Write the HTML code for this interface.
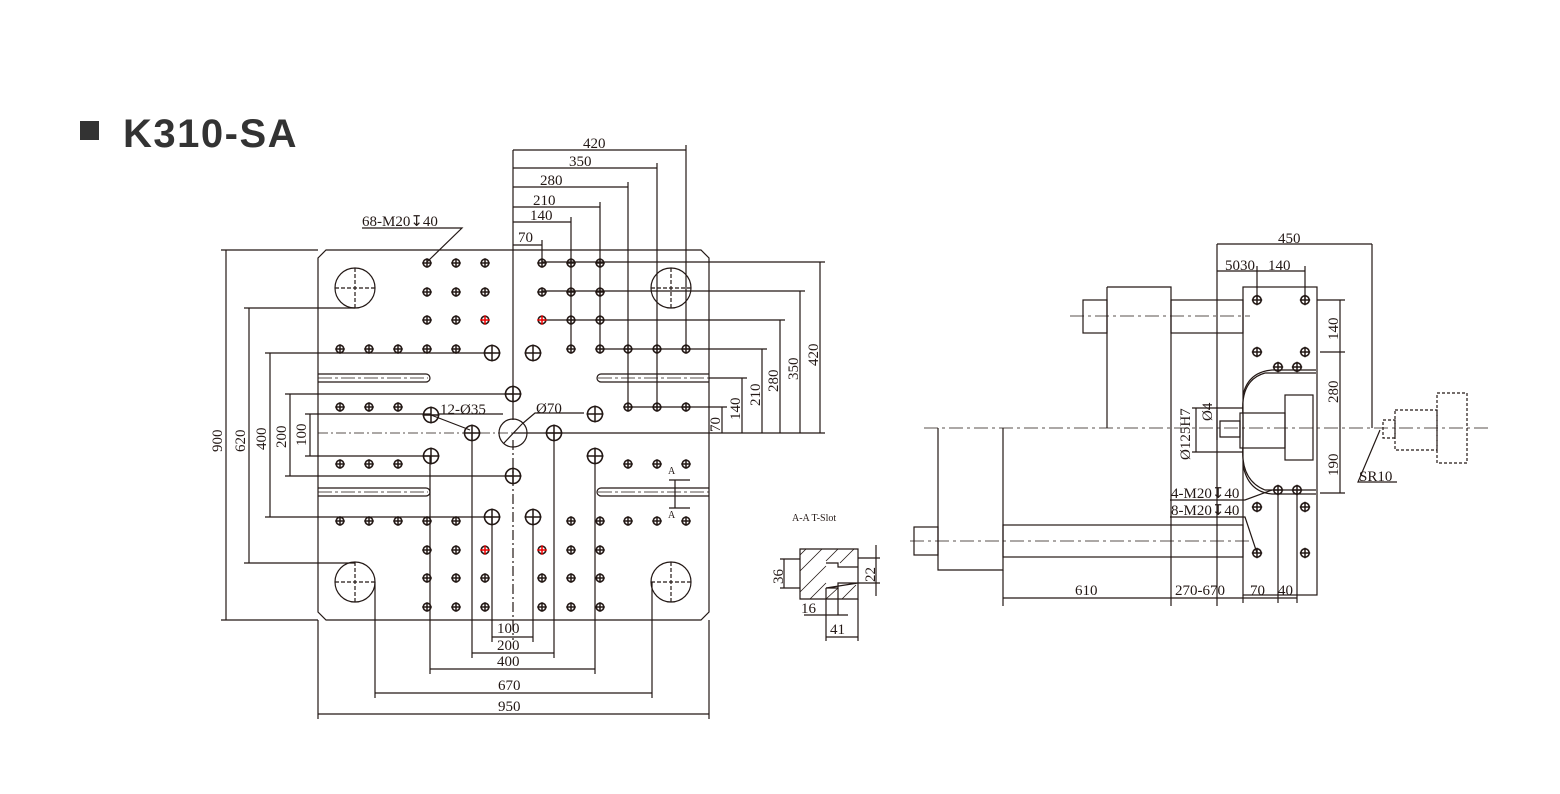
<!DOCTYPE html>
<html><head><meta charset="utf-8"><style>
html,body{margin:0;padding:0;background:#fff;width:1560px;height:794px;overflow:hidden}
svg{display:block}
text{font-family:"Liberation Serif",serif;font-size:15px;fill:#231815}
</style></head><body>
<svg id="s" width="1560" height="794" viewBox="0 0 1560 794" xmlns="http://www.w3.org/2000/svg">
<rect x="80" y="121" width="19" height="19" fill="#333"/>
<text x="123" y="147" style="font-family:'Liberation Sans',sans-serif;font-size:40px;font-weight:bold;fill:#333;letter-spacing:1.5px">K310-SA</text>
<g id="g" stroke="#231815" stroke-width="1.2" fill="none">
<path d="M326,250 H701 L709,258 V612 L701,620 H326 L318,612 V258 Z"/>
<line x1="513" y1="150" x2="513" y2="420"/>
<path d="M513,440 V640" stroke-dasharray="10,3,2,3"/>
<path d="M318,433 H709" stroke-dasharray="10,3,2,3" stroke-width="0.8"/>
<path d="M318,374 H426 A4,4 0 0 1 426,382 H318"/><path d="M318,378 H428" stroke-dasharray="14,3,3,3" stroke-width="0.7"/>
<path d="M709,374 H601 A4,4 0 0 0 601,382 H709"/><path d="M598,378 H709" stroke-dasharray="14,3,3,3" stroke-width="0.7"/>
<path d="M318,488 H426 A4,4 0 0 1 426,496 H318"/><path d="M318,492 H428" stroke-dasharray="14,3,3,3" stroke-width="0.7"/>
<path d="M709,488 H601 A4,4 0 0 0 601,496 H709"/><path d="M598,492 H709" stroke-dasharray="14,3,3,3" stroke-width="0.7"/>
<path d="M669,480 H675 V508 H669 M675,480 H690 M675,508 H690" />
<g stroke-dasharray="4,2"><path d="M335,288 H375 M355,268 V308"/><path d="M651,288 H691 M671,268 V308"/><path d="M335,582 H375 M355,562 V602"/><path d="M651,582 H691 M671,562 V602"/></g>
<circle cx="355" cy="288" r="20"/><circle cx="671" cy="288" r="20"/><circle cx="355" cy="582" r="20"/><circle cx="671" cy="582" r="20"/>
<circle cx="513" cy="433" r="14"/><line x1="504" y1="443" x2="522" y2="424"/><path d="M522,424 L535,413 H584"/>
<path d="M431,415 L470,430" /><path d="M438,414 H503"/>
<path d="M226,250 V620 M221,250 H318 M221,620 H318"/>
<path d="M249,308 V563 M244,308 H355 M244,563 H355"/>
<path d="M270,353 V517 M265,353 H492 M265,517 H492"/>
<path d="M290,394 V476 M285,394 H513 M285,476 H513"/>
<path d="M310,414 V456 M305,414 H431 M305,456 H431"/>
<path d="M820,262 V433 M542,262 H825"/>
<path d="M800,291 V433 M542,291 H805"/>
<path d="M780,320 V433 M542,320 H785"/>
<path d="M762,349 V433 M600,349 H767"/>
<path d="M742,378 V433 M709,378 H747"/>
<path d="M722,407 V433 M628,407 H727"/>
<path d="M513,433 H825"/>
<path d="M513,150 H686 M686,145 V349"/>
<path d="M513,168 H657 M657,163 V407"/>
<path d="M513,187 H628 M628,182 V407"/>
<path d="M513,207 H600 M600,202 V349"/>
<path d="M513,222 H571 M571,217 V349"/>
<path d="M513,245 H542 M542,240 V262"/>
<path d="M492,637 H533 M492,517 V642 M533,517 V642"/>
<path d="M472,653 H554 M472,433 V658 M554,433 V658"/>
<path d="M430,669 H595 M430,456 V674 M595,456 V674"/>
<path d="M375,693 H652 M375,582 V698 M652,582 V698"/>
<path d="M318,714 H709 M318,620 V719 M709,620 V719"/>
<path d="M427,262 L462,228 H362"/>
<path d="M800,549 H858 V599 H800 Z" fill="#fff"/>
<path d="M826,563 H838 V567 H858 M858,583 H838 V588 H826 Z" fill="#fff"/>
<path d="M806,549 L800,555 M822,549 L800,571 M838,549 L826,561 M854,549 L840,563 M810,599 L826,583 M826,599 L838,588 M842,599 L856,585 M826,566 L800,592" stroke-width="0.8"/>
<path d="M780,559 H800 M780,588 H800 M784,559 V588 M858,558 H880 M858,583 H880 M876,545 V596 M826,588 V641 M838,588 V615 M858,599 V641 M804,615 H848 M826,637 H858"/>
<path d="M924,428 H1490" stroke-dasharray="14,4,3,4" stroke-width="0.8"/>
<path d="M1070,316 H1250 M910,541 H1250" stroke-dasharray="14,4,3,4" stroke-width="0.8"/>
<rect x="1243" y="287" width="74" height="308"/>
<path d="M1107,287 H1171 V428 M1107,287 V428"/>
<rect x="1171" y="300" width="72" height="33"/><rect x="1083" y="300" width="24" height="33"/>
<path d="M938,428 V570 H1003 V428"/>
<rect x="1003" y="525" width="240" height="32"/><rect x="914" y="527" width="24" height="28"/>
<path d="M1217,244 V606 M1171,428 V606 M1003,570 V606"/>
<path d="M1316,373 H1265 Q1240,380 1243,415 V445 Q1240,480 1265,490 H1316"/>
<path d="M1316,370 H1272 Q1248,372 1243,395 M1243,465 Q1248,492 1272,494 H1316"/>
<rect x="1285" y="395" width="28" height="65"/><rect x="1240" y="413" width="45" height="35"/>
<path d="M1220,421 H1240 V437 H1220 Z"/>
<path d="M1192,408 H1243 M1192,452 H1243 M1196,408 V452 M1217,410 V440"/>
<g stroke-dasharray="3,2"><rect x="1383" y="420" width="12" height="18"/><rect x="1395" y="410" width="42" height="40"/><rect x="1437" y="393" width="30" height="70"/></g>
<path d="M1372,244 V428 M1217,244 H1372 M1217,271 H1305 M1257,266 V300 M1305,266 V300"/>
<path d="M1317,300 H1345 M1320,352 H1345 M1320,493 H1345 M1340,300 V493"/>
<path d="M1003,598 H1297 M1243,595 V603 M1278,490 V603 M1297,490 V603"/>
<path d="M1380,430 L1358,482 H1397"/>
<path d="M1170,500 H1245 L1272,490 M1170,517 H1245 L1257,553"/>
</g>
<g id="h"></g>
<g>
<text x="583" y="148">420</text><text x="569" y="166">350</text><text x="540" y="185">280</text><text x="533" y="205">210</text><text x="530" y="220">140</text><text x="518" y="242">70</text>
<text x="362" y="226">68-M20↧40</text>
<text x="440" y="414">12-Ø35</text><text x="536" y="413">Ø70</text>
<text x="497" y="633">100</text><text x="497" y="650">200</text><text x="497" y="666">400</text><text x="498" y="690">670</text><text x="498" y="711">950</text>
<text x="668" y="474" style="font-size:10px">A</text><text x="668" y="518" style="font-size:10px">A</text>
<text transform="translate(222,452) rotate(-90)">900</text>
<text transform="translate(245,452) rotate(-90)">620</text>
<text transform="translate(266,450) rotate(-90)">400</text>
<text transform="translate(286,448) rotate(-90)">200</text>
<text transform="translate(306,446) rotate(-90)">100</text>
<text transform="translate(818,366) rotate(-90)">420</text>
<text transform="translate(798,380) rotate(-90)">350</text>
<text transform="translate(778,392) rotate(-90)">280</text>
<text transform="translate(760,406) rotate(-90)">210</text>
<text transform="translate(740,420) rotate(-90)">140</text>
<text transform="translate(720,432) rotate(-90)">70</text>
<text x="792" y="521" style="font-size:10px">A-A T-Slot</text>
<text transform="translate(783,584) rotate(-90)">36</text>
<text transform="translate(875,582) rotate(-90)">22</text>
<text x="801" y="613">16</text><text x="830" y="634">41</text>
<text x="1278" y="243">450</text><text x="1225" y="270">5030</text><text x="1268" y="270">140</text>
<text transform="translate(1338,340) rotate(-90)">140</text>
<text transform="translate(1338,403) rotate(-90)">280</text>
<text transform="translate(1338,476) rotate(-90)">190</text>
<text transform="translate(1190,460) rotate(-90)">Ø125H7</text>
<text transform="translate(1212,421) rotate(-90)">Ø4</text>
<text x="1359" y="481">SR10</text>
<text x="1171" y="498">4-M20↧40</text><text x="1171" y="515">8-M20↧40</text>
<text x="1075" y="595">610</text><text x="1175" y="595">270-670</text><text x="1250" y="595">70</text><text x="1278" y="595">40</text>
</g>
</svg>
<script>
(function(){
var g=document.getElementById('h'),out='';
function c(x,y,r,red){out+='<circle cx="'+x+'" cy="'+y+'" r="'+r+'" fill="none" stroke="#231815" stroke-width="1.6"/><path d="M'+(x-r-1)+','+y+'H'+(x+r+1)+'M'+x+','+(y-r-1)+'V'+(y+r+1)+'" stroke="'+(red?'#e00':'#231815')+'" stroke-width="1.5"/>';}
var L=[427,456,485],R=[542,571,600];
[263,292,320].forEach(function(y){L.forEach(function(x){c(x,y,3.8,y==320&&x==485)});R.forEach(function(x){c(x,y,3.8,y==320&&x==542)})});
[550,578,607].forEach(function(y){L.forEach(function(x){c(x,y,3.8,y==550&&x==485)});R.forEach(function(x){c(x,y,3.8,y==550&&x==542)})});
[340,369,398,427,456].forEach(function(x){c(x,349,3.8);c(x,521,3.8)});
[571,600,628,657,686].forEach(function(x){c(x,349,3.8);c(x,521,3.8)});
[340,369,398].forEach(function(x){c(x,407,3.8);c(x,464,3.8)});
[628,657,686].forEach(function(x){c(x,407,3.8);c(x,464,3.8)});
[[492,353],[533,353],[513,394],[431,415],[595,414],[472,433],[554,433],[431,456],[595,456],[513,476],[492,517],[533,517]].forEach(function(p){c(p[0],p[1],7.5)});
[[1257,300],[1305,300],[1257,352],[1305,352],[1278,367],[1297,367],[1278,490],[1297,490],[1257,507],[1305,507],[1257,553],[1305,553]].forEach(function(p){c(p[0],p[1],4.2)});
g.innerHTML=out;
})();
</script>
</body></html>
